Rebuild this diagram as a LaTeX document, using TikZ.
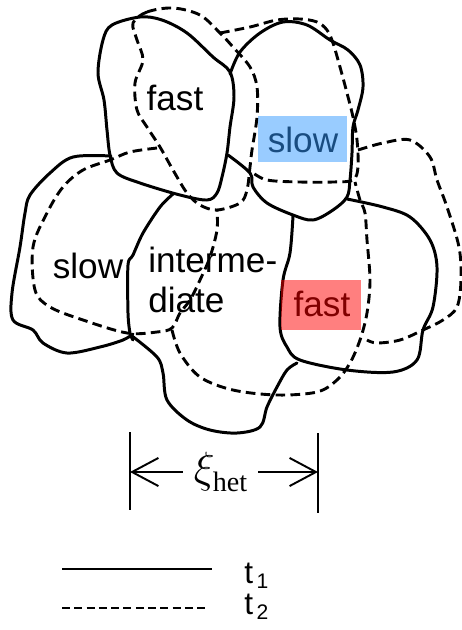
\documentclass[tikz,border=0pt]{standalone}
\usepackage{fontspec}
\setmainfont{Liberation Sans}
\newfontfamily\serifhet{Liberation Serif}
\usetikzlibrary{arrows.meta}
\definecolor{hlblue}{HTML}{3399FF}
\definecolor{hlred}{HTML}{FF0000}
\tikzset{
  tone/.style={line width=1.7pt, line join=round, line cap=round},
  ttwo/.style={line width=1.65pt, dash pattern=on 5.5pt off 3pt, line join=round},
  lbl/.style={font=\fontsize{20}{22.7}\selectfont, inner sep=0pt},
  hl/.style={fill opacity=0.5, draw=none},
  dimline/.style={line width=1.1pt},
  dimarrow/.style={line width=1.1pt, -{Straight Barb[length=15pt,width=16pt,line width=1.1pt]}},
}
\begin{document}
\begin{tikzpicture}[x=0.02cm, y=-0.02cm]
\useasboundingbox (0,0) rectangle (462,630);

% ---- t1 (solid) ----
% fast, top-left
\draw[tone] plot[smooth cycle, tension=0.55] coordinates {
 (110,155) (107,130) (104,100) (98,73) (103,40) (112,25) (140,17) (162,20)
 (187,33) (213,57) (230,72) (234,97) (230,127) (227,153) (222,177)
 (217,193) (207,200) (180,195) (140,183) (117,173)};
% slow, top-right
\draw[tone] plot[smooth, tension=0.55] coordinates {
 (230,74) (240,52) (260,33) (283,22) (307,25) (330,40) (348,50) (360,65)
 (363,87) (358,110) (353,127) (352,153) (350,180) (347,197) (333,210)
 (313,220) (293,215) (267,203) (253,187) (250,173) (228,155)};
% slow, left
\draw[tone] plot[smooth, tension=0.55] coordinates {
 (111,156) (73,157) (50,173) (30,195) (25,213) (20,247) (12,293) (13,320)
 (33,330) (43,343) (67,353) (100,347) (123,340) (133,334)};
% boundary slow / intermediate
\draw[tone] plot[smooth, tension=0.5] coordinates {
 (173,194) (160,207) (143,233) (133,255) (128,265) (128,313) (130,333) (133,340)};
% intermediate, bottom
\draw[tone] plot[smooth, tension=0.55] coordinates {
 (132,336) (157,357) (163,373) (167,400) (187,420) (210,430) (237,433)
 (260,427) (267,407) (277,387) (287,370) (297,363)};
% fast, right
\draw[tone] plot[smooth, tension=0.55] coordinates {
 (293,216) (290,253) (283,280) (280,327) (287,347) (300,360) (347,370)
 (393,372) (417,360) (423,330) (433,307) (437,267) (430,240) (410,217)
 (383,207) (347,199)};

% ---- t2 (dashed) ----
% fast t2, top-left
\draw[ttwo] plot[smooth cycle, tension=0.55] coordinates {
 (133,23) (147,12) (173,8) (200,15) (220,33) (233,47) (250,67) (257,87)
 (257,117) (252,150) (250,167) (247,190) (240,203) (217,210) (200,205)
 (187,193) (173,170) (160,147) (147,127) (137,110) (135,83) (143,60) (137,40)};
% slow t2, top-right
\draw[ttwo] plot[smooth, tension=0.55] coordinates {
 (220,33) (250,27) (277,20) (300,19) (317,22) (327,30) (333,43) (340,67)
 (347,93) (353,117) (357,140) (358,167) (353,180) (333,182) (300,182)
 (267,180) (252,172)};
% slow t2, left
\draw[ttwo] plot[smooth, tension=0.55] coordinates {
 (157,148) (130,152) (110,160) (83,170) (63,187) (47,213) (33,247) (35,290)
 (50,307) (83,320) (127,333) (157,332) (172,328) (180,313) (190,300)
 (200,280) (210,257) (217,230) (217,210)};
% intermediate t2, bottom and right
\draw[ttwo] plot[smooth, tension=0.55] coordinates {
 (172,330) (180,353) (200,377) (233,390) (277,395) (317,392) (337,380)
 (350,363) (360,340) (367,313) (370,280) (367,240) (365,213) (360,200) (355,182)};
% fast t2, right
\draw[ttwo] plot[smooth, tension=0.55] coordinates {
 (358,150) (383,143) (410,140) (430,157) (437,180) (447,207) (459,247)
 (461,280) (457,307) (443,320) (423,330) (400,340) (377,343) (367,340)};

% ---- labels ----
\node[lbl] (fastA) at (175,98) {fast};
\node[lbl] (slowL) at (88,266) {slow};
\node[lbl, anchor=north west, align=left] (inter) at (148,247) {interme-\\diate};
\node[lbl] (slowB) at (303,140) {slow};
\node[lbl] (fastR) at (322,304) {fast};
\fill[hl, hlblue] (258,116) rectangle (347,162);
\fill[hl, hlred] (281,280) rectangle (361,330);

% ---- dimension xi_het ----
\coordinate (tlA) at (130,432); \coordinate (tlB) at (130,510);
\coordinate (trA) at (318,433); \coordinate (trB) at (318,513);
\draw[dimline] (tlA) -- (tlB);
\draw[dimline] (trA) -- (trB);
\node[inner sep=0pt, minimum width=1.5cm, minimum height=0.6cm] (xi) at (220.5,472)
  {\fontsize{23}{26}\selectfont$\xi$\kern-1pt\raisebox{-5pt}{\serifhet\fontsize{16}{18}\selectfont het}};
\coordinate (al) at (130,472); \coordinate (ar) at (318,472);
\draw[dimarrow] (xi.west) -- (al);
\draw[dimarrow] (xi.east) -- (ar);

% ---- legend ----
\coordinate (s1) at (62,569); \coordinate (s2) at (212,569);
\coordinate (d1) at (62,608); \coordinate (d2) at (205,608);
\draw[line width=1.3pt] (s1) -- (s2);
\draw[line width=1.3pt, dash pattern=on 4.5pt off 2.5pt] (d1) -- (d2);
\node[anchor=base west, inner sep=0pt, font=\fontsize{18}{20}\selectfont] (tA) at (244,583)
  {t\raisebox{-3.2pt}{\fontsize{12}{14}\selectfont\,1}};
\node[anchor=base west, inner sep=0pt, font=\fontsize{18}{20}\selectfont] (tB) at (244,614)
  {t\raisebox{-3.2pt}{\fontsize{12}{14}\selectfont\,2}};
\end{tikzpicture}
\end{document}
